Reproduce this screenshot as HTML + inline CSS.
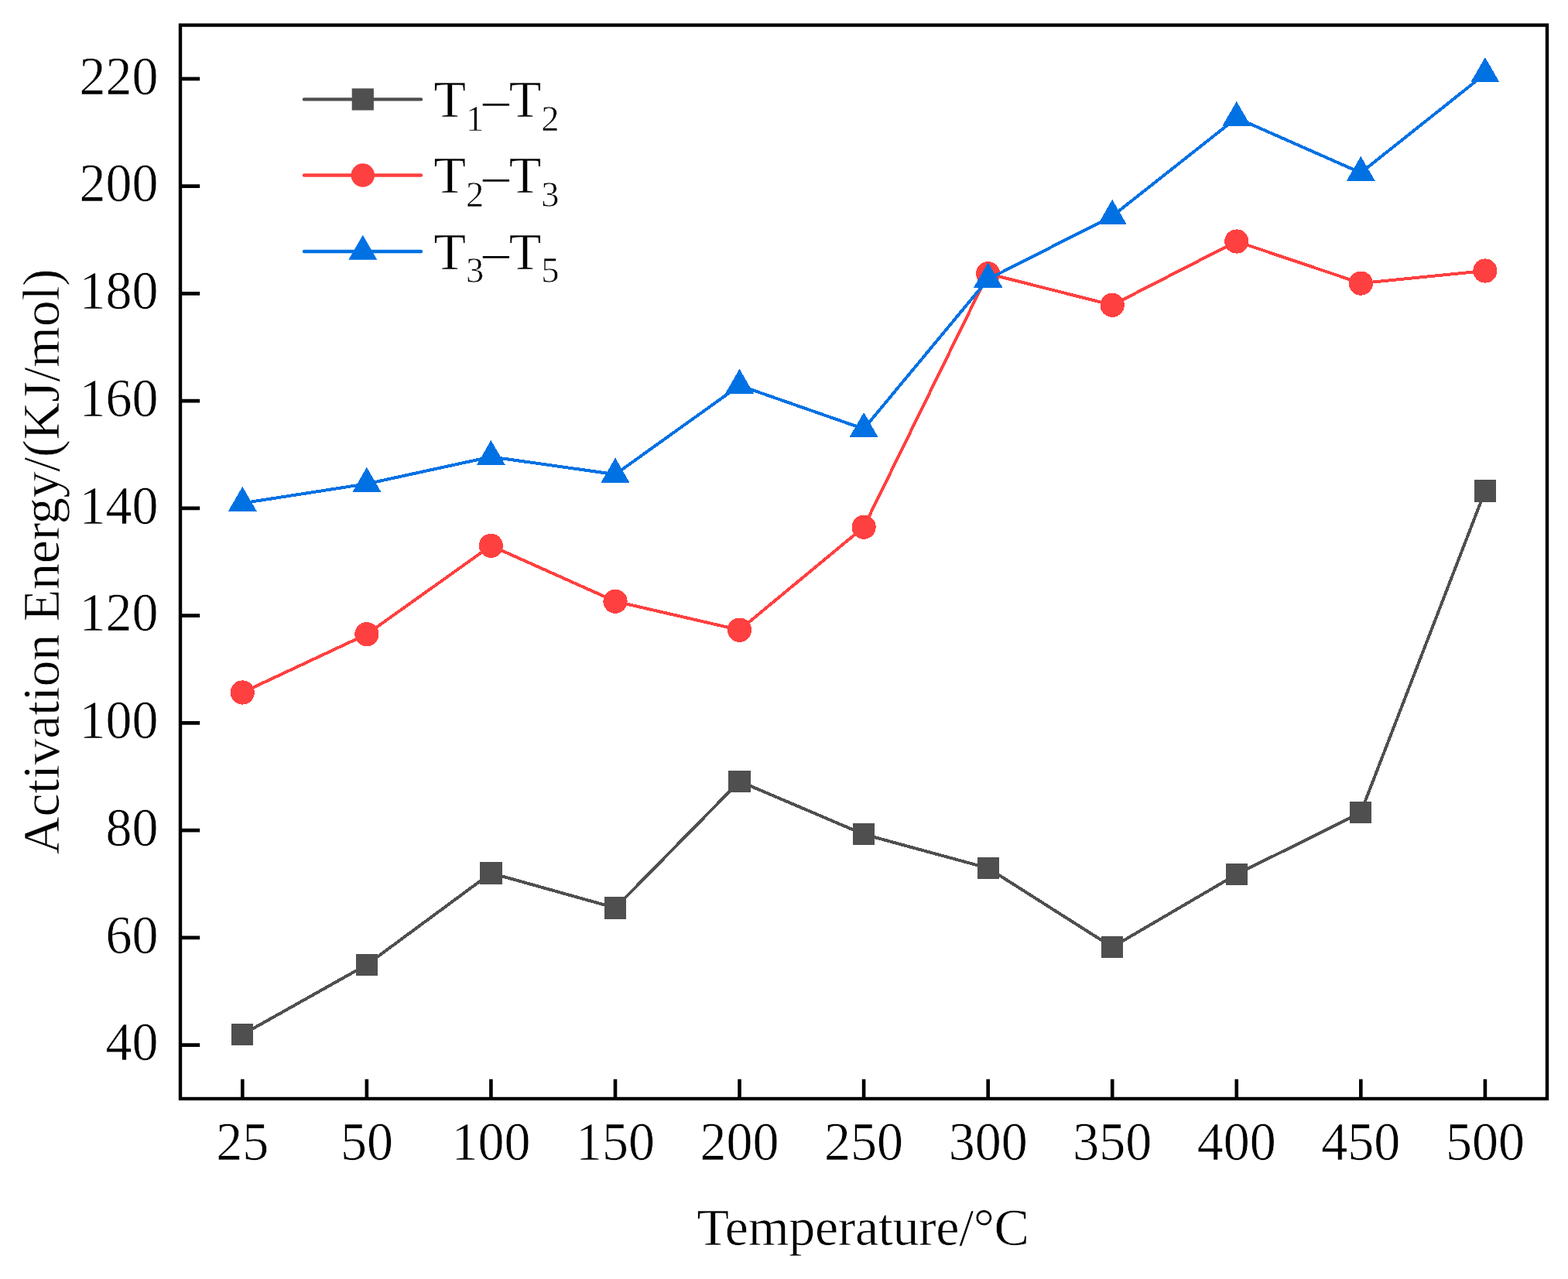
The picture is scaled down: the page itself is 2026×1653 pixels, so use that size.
<!DOCTYPE html>
<html><head><meta charset="utf-8"><title>Activation Energy</title>
<style>html,body{margin:0;padding:0;background:#fff;overflow:hidden;}svg{display:block;}text{font-family:'Liberation Serif', 'Times New Roman', serif;fill:#000;stroke:#fff;stroke-width:0.6px;}</style>
</head><body>
<svg width="2026" height="1653" viewBox="0 0 2026 1653">
<rect x="0" y="0" width="2026" height="1653" fill="#fff"/>
<g id="s1" shape-rendering="crispEdges">
<polyline points="313.3,1337.0 473.9,1246.8 634.4,1128.4 795.0,1173.4 955.5,1009.8 1116.1,1078.3 1276.7,1122.0 1437.2,1224.0 1597.8,1130.0 1758.3,1050.1 1918.9,634.4" fill="none" stroke="#4F4F4F" stroke-width="4.0" stroke-linejoin="round" stroke-linecap="round"/>
<rect x="299.2" y="1322.9" width="28.2" height="28.2" fill="#4F4F4F"/>
<rect x="459.8" y="1232.7" width="28.2" height="28.2" fill="#4F4F4F"/>
<rect x="620.3" y="1114.3" width="28.2" height="28.2" fill="#4F4F4F"/>
<rect x="780.9" y="1159.3" width="28.2" height="28.2" fill="#4F4F4F"/>
<rect x="941.4" y="995.7" width="28.2" height="28.2" fill="#4F4F4F"/>
<rect x="1102.0" y="1064.2" width="28.2" height="28.2" fill="#4F4F4F"/>
<rect x="1262.6" y="1107.9" width="28.2" height="28.2" fill="#4F4F4F"/>
<rect x="1423.1" y="1209.9" width="28.2" height="28.2" fill="#4F4F4F"/>
<rect x="1583.7" y="1115.9" width="28.2" height="28.2" fill="#4F4F4F"/>
<rect x="1744.2" y="1036.0" width="28.2" height="28.2" fill="#4F4F4F"/>
<rect x="1904.8" y="620.3" width="28.2" height="28.2" fill="#4F4F4F"/>
</g>
<g id="s2" shape-rendering="crispEdges">
<polyline points="313.3,895.0 473.9,819.7 634.4,705.3 795.0,777.2 955.5,814.2 1116.1,681.2 1276.7,353.7 1437.2,394.3 1597.8,312.0 1758.3,366.1 1918.9,350.0" fill="none" stroke="#FF4040" stroke-width="4.0" stroke-linejoin="round" stroke-linecap="round"/>
<circle cx="313.3" cy="895.0" r="15.6" fill="#FF4040"/>
<circle cx="473.9" cy="819.7" r="15.6" fill="#FF4040"/>
<circle cx="634.4" cy="705.3" r="15.6" fill="#FF4040"/>
<circle cx="795.0" cy="777.2" r="15.6" fill="#FF4040"/>
<circle cx="955.5" cy="814.2" r="15.6" fill="#FF4040"/>
<circle cx="1116.1" cy="681.2" r="15.6" fill="#FF4040"/>
<circle cx="1276.7" cy="353.7" r="15.6" fill="#FF4040"/>
<circle cx="1437.2" cy="394.3" r="15.6" fill="#FF4040"/>
<circle cx="1597.8" cy="312.0" r="15.6" fill="#FF4040"/>
<circle cx="1758.3" cy="366.1" r="15.6" fill="#FF4040"/>
<circle cx="1918.9" cy="350.0" r="15.6" fill="#FF4040"/>
</g>
<g id="s3" shape-rendering="crispEdges">
<polyline points="313.3,650.3 473.9,625.3 634.4,590.4 795.0,613.1 955.5,498.2 1116.1,554.3 1276.7,360.8 1437.2,279.3 1597.8,152.4 1758.3,223.3 1918.9,95.5" fill="none" stroke="#0071E3" stroke-width="4.0" stroke-linejoin="round" stroke-linecap="round"/>
<polygon points="313.3,628.8 331.9,661.1 294.7,661.1" fill="#0071E3"/>
<polygon points="473.9,603.8 492.5,636.1 455.3,636.1" fill="#0071E3"/>
<polygon points="634.4,568.9 653.0,601.2 615.8,601.2" fill="#0071E3"/>
<polygon points="795.0,591.6 813.6,623.9 776.4,623.9" fill="#0071E3"/>
<polygon points="955.5,476.7 974.1,509.0 936.9,509.0" fill="#0071E3"/>
<polygon points="1116.1,532.8 1134.7,565.1 1097.5,565.1" fill="#0071E3"/>
<polygon points="1276.7,339.3 1295.3,371.6 1258.1,371.6" fill="#0071E3"/>
<polygon points="1437.2,257.8 1455.8,290.1 1418.6,290.1" fill="#0071E3"/>
<polygon points="1597.8,130.9 1616.4,163.2 1579.2,163.2" fill="#0071E3"/>
<polygon points="1758.3,201.8 1776.9,234.1 1739.7,234.1" fill="#0071E3"/>
<polygon points="1918.9,74.0 1937.5,106.3 1900.3,106.3" fill="#0071E3"/>
</g>
<rect x="233.0" y="32.5" width="1766.0" height="1387.5" fill="none" stroke="#000" stroke-width="4.4" stroke-linejoin="miter"/>
<path d="M233.0 1350.62H258.2 M233.0 1211.88H258.2 M233.0 1073.12H258.2 M233.0 934.38H258.2 M233.0 795.62H258.2 M233.0 656.88H258.2 M233.0 518.12H258.2 M233.0 379.38H258.2 M233.0 240.62H258.2 M233.0 101.88H258.2 M313.30 1420.0V1394.8 M473.86 1420.0V1394.8 M634.42 1420.0V1394.8 M794.98 1420.0V1394.8 M955.54 1420.0V1394.8 M1116.10 1420.0V1394.8 M1276.66 1420.0V1394.8 M1437.22 1420.0V1394.8 M1597.78 1420.0V1394.8 M1758.34 1420.0V1394.8 M1918.90 1420.0V1394.8" stroke="#000" stroke-width="4.6" fill="none"/>
<text transform="translate(204.6 1370.2) scale(1 1.030)" font-size="68" text-anchor="end">40</text>
<text transform="translate(204.6 1231.5) scale(1 1.030)" font-size="68" text-anchor="end">60</text>
<text transform="translate(204.6 1092.7) scale(1 1.030)" font-size="68" text-anchor="end">80</text>
<text transform="translate(204.6 954.0) scale(1 1.030)" font-size="68" text-anchor="end">100</text>
<text transform="translate(204.6 815.2) scale(1 1.030)" font-size="68" text-anchor="end">120</text>
<text transform="translate(204.6 676.5) scale(1 1.030)" font-size="68" text-anchor="end">140</text>
<text transform="translate(204.6 537.7) scale(1 1.030)" font-size="68" text-anchor="end">160</text>
<text transform="translate(204.6 399.0) scale(1 1.030)" font-size="68" text-anchor="end">180</text>
<text transform="translate(204.6 260.2) scale(1 1.030)" font-size="68" text-anchor="end">200</text>
<text transform="translate(204.6 121.5) scale(1 1.030)" font-size="68" text-anchor="end">220</text>
<text transform="translate(313.3 1499.0) scale(1 1.030)" font-size="68" text-anchor="middle">25</text>
<text transform="translate(473.9 1499.0) scale(1 1.030)" font-size="68" text-anchor="middle">50</text>
<text transform="translate(634.4 1499.0) scale(1 1.030)" font-size="68" text-anchor="middle">100</text>
<text transform="translate(795.0 1499.0) scale(1 1.030)" font-size="68" text-anchor="middle">150</text>
<text transform="translate(955.5 1499.0) scale(1 1.030)" font-size="68" text-anchor="middle">200</text>
<text transform="translate(1116.1 1499.0) scale(1 1.030)" font-size="68" text-anchor="middle">250</text>
<text transform="translate(1276.7 1499.0) scale(1 1.030)" font-size="68" text-anchor="middle">300</text>
<text transform="translate(1437.2 1499.0) scale(1 1.030)" font-size="68" text-anchor="middle">350</text>
<text transform="translate(1597.8 1499.0) scale(1 1.030)" font-size="68" text-anchor="middle">400</text>
<text transform="translate(1758.3 1499.0) scale(1 1.030)" font-size="68" text-anchor="middle">450</text>
<text transform="translate(1918.9 1499.0) scale(1 1.030)" font-size="68" text-anchor="middle">500</text>
<text x="1115" y="1609" font-size="68" text-anchor="middle" letter-spacing="-0.35">Temperature/°C</text>
<text transform="translate(76 726) rotate(-90)" x="0" y="0" font-size="68" text-anchor="middle" letter-spacing="-0.26">Activation Energy/(KJ/mol)</text>
<line x1="393.0" y1="128.4" x2="544.0" y2="128.4" stroke="#4F4F4F" stroke-width="4.4" stroke-linecap="round"/>
<rect x="454.7" y="114.3" width="28.2" height="28.2" fill="#4F4F4F"/>
<text x="560.4" y="151.3" font-size="68">T<tspan font-size="46.5" dy="17.4">1</tspan><tspan dy="-17.4" dx="-1.5">–T</tspan><tspan font-size="46.5" dy="17.4">2</tspan></text>
<line x1="393.0" y1="226.5" x2="544.0" y2="226.5" stroke="#FF4040" stroke-width="4.4" stroke-linecap="round"/>
<circle cx="468.8" cy="226.5" r="15.2" fill="#FF4040"/>
<text x="560.4" y="249.4" font-size="68">T<tspan font-size="46.5" dy="17.4">2</tspan><tspan dy="-17.4" dx="-1.5">–T</tspan><tspan font-size="46.5" dy="17.4">3</tspan></text>
<line x1="393.0" y1="325.0" x2="544.0" y2="325.0" stroke="#0071E3" stroke-width="4.4" stroke-linecap="round"/>
<polygon points="468.8,303.7 487.3,335.7 450.3,335.7" fill="#0071E3"/>
<text x="560.4" y="347.9" font-size="68">T<tspan font-size="46.5" dy="17.4">3</tspan><tspan dy="-17.4" dx="-1.5">–T</tspan><tspan font-size="46.5" dy="17.4">5</tspan></text>
</svg>
</body></html>
